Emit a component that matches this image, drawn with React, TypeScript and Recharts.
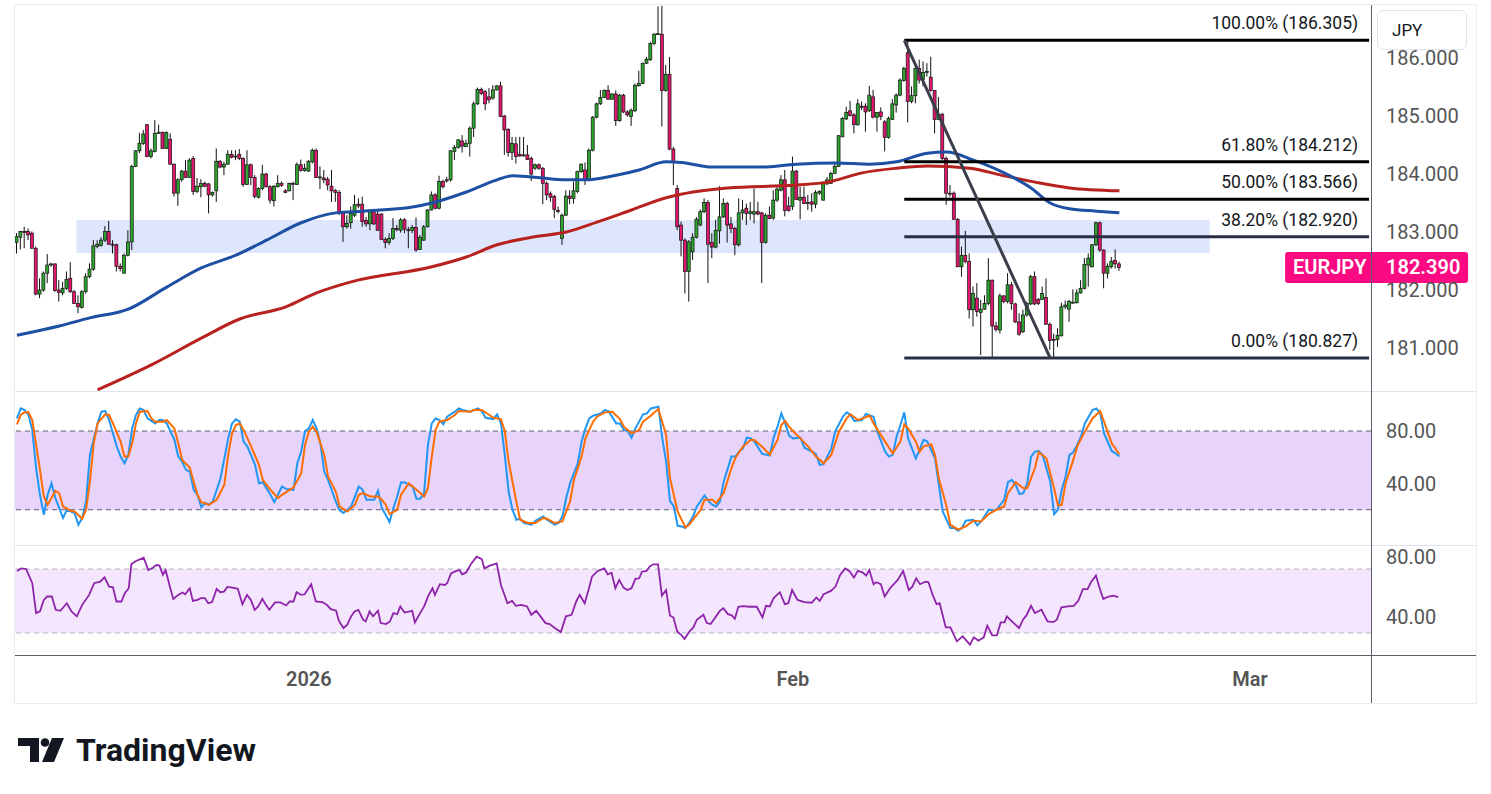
import React from "react";
import {
  ComposedChart,
  Bar,
  Line,
  XAxis,
  YAxis,
  ReferenceArea,
  ReferenceLine,
  ReferenceDot,
} from "recharts";

// 4H candles, [open, high, low, close]
const decCandles = [
  [182.82,182.98,182.63,182.92],[182.91,183.02,182.70,183.01],[183.01,183.09,182.72,183.00],[183.01,183.06,182.86,182.95],
  [182.98,183.01,182.72,182.72],[182.72,182.75,181.91,181.93],[181.93,182.20,181.86,182.00],[182.00,182.32,181.97,182.29],
  [182.29,182.62,182.12,182.43],[182.44,182.47,182.40,182.45],[182.45,182.46,181.97,181.99],[182.00,182.17,181.80,181.96],
  [181.95,182.14,181.91,182.03],[182.03,182.32,182.00,182.18],[182.20,182.48,181.95,181.97],[181.97,182.00,181.76,181.77],
  [181.77,181.91,181.60,181.71],[181.70,182.00,181.68,181.97],[181.97,182.29,181.94,182.23],[182.23,182.46,182.20,182.36],
  [182.36,182.86,182.33,182.76],[182.75,182.86,182.72,182.79],[182.77,182.91,182.75,182.86],[182.86,183.10,182.83,183.01],
  [183.01,183.19,182.78,182.79],[182.79,182.86,182.63,182.78],[182.78,182.80,182.32,182.41],[182.41,182.46,182.32,182.37],
  [182.29,182.63,182.29,182.60],[182.60,183.03,182.58,182.83],[182.83,184.16,182.69,184.13],[184.13,184.41,184.12,184.40],
  [184.40,184.71,184.36,184.53],[184.53,184.76,184.50,184.69],[184.85,184.86,184.29,184.30],[184.30,184.44,184.27,184.40],
  [184.39,184.93,184.37,184.70],[184.70,184.85,184.70,184.72],[184.72,184.73,184.43,184.44],[184.44,184.73,184.43,184.72],
  [184.60,184.70,184.16,184.17],[184.17,184.18,183.61,183.67],[183.67,183.93,183.45,183.90],[183.90,184.07,183.87,184.05],
  [184.05,184.24,183.93,183.94],[183.94,184.27,183.93,184.24],[184.27,184.31,183.64,183.70],[183.70,183.93,183.67,183.79],
  [183.78,183.91,183.60,183.84],[183.84,183.87,183.77,183.79],[183.83,183.84,183.32,183.64],[183.64,183.70,183.61,183.68],
  [183.71,184.44,183.52,184.22],[184.22,184.24,184.10,184.12],[184.12,184.21,183.98,184.17],[184.17,184.41,184.16,184.34],
  [184.34,184.41,184.27,184.29],[184.30,184.41,184.24,184.31],[184.34,184.43,184.24,184.27],[184.27,184.29,183.78,183.82],
  [183.82,184.41,183.81,184.16],[184.16,184.18,183.81,183.94],[183.94,183.98,183.58,183.61],[183.60,183.77,183.58,183.75],
  [183.75,184.16,183.72,184.00],[184.00,184.02,183.77,183.78],[183.78,183.81,183.49,183.55],[183.54,183.81,183.44,183.79],
  [183.78,183.98,183.77,183.84],[183.84,183.87,183.78,183.80],[183.71,183.74,183.67,183.68],[183.71,183.85,183.70,183.84],
  [183.84,183.87,183.55,183.83],[183.82,184.20,183.81,184.16],[184.16,184.25,184.04,184.06],[184.06,184.18,184.04,184.10],
];

const janCandles = [
  [184.05,184.24,184.04,184.22],[184.21,184.44,184.18,184.41],[184.41,184.44,183.93,183.94],[183.94,184.13,183.74,183.95],
  [183.93,184.07,183.84,183.90],[183.91,183.95,183.72,183.81],[183.79,184.07,183.52,183.71],[183.72,183.74,183.52,183.68],
  [183.68,183.72,183.29,183.33],[183.33,183.35,182.83,183.09],[183.09,183.29,183.06,183.15],[183.16,183.44,183.06,183.32],
  [183.29,183.64,183.26,183.47],[183.48,183.58,183.41,183.45],[183.48,183.61,183.09,183.18],[183.20,183.26,183.09,183.14],
  [183.14,183.38,183.03,183.35],[183.35,183.38,183.12,183.14],[183.31,183.38,183.03,183.03],[183.31,183.32,182.86,182.87],
  [182.87,182.91,182.72,182.82],[182.82,182.98,182.78,182.89],[182.89,183.24,182.86,183.06],[183.06,183.12,183.01,183.04],
  [183.03,183.24,182.99,183.21],[183.21,183.24,182.98,183.05],[183.04,183.09,182.72,183.03],[183.03,183.12,182.98,183.08],
  [183.08,183.25,182.66,182.69],[182.70,182.95,182.69,182.91],[182.86,183.12,182.85,183.09],[183.09,183.39,183.08,183.38],
  [183.38,183.70,183.37,183.64],[183.64,183.67,183.39,183.41],[183.41,183.97,183.39,183.87],[183.87,183.90,183.75,183.78],
  [183.90,183.95,183.85,183.89],[183.90,184.41,183.87,184.40],[184.39,184.50,184.24,184.46],[184.46,184.60,184.44,184.59],
  [184.57,184.67,184.37,184.48],[184.47,184.59,184.47,184.53],[184.53,184.82,184.30,184.79],[184.79,185.25,184.64,185.21],
  [185.21,185.49,185.19,185.46],[185.46,185.49,185.36,185.39],[185.42,185.45,185.10,185.21],[185.33,185.48,185.22,185.28],
  [185.31,185.53,185.28,185.45],[185.45,185.53,185.44,185.52],[185.52,185.59,184.98,184.99],[185.00,185.02,184.33,184.76],
  [184.77,184.79,184.30,184.37],[184.37,184.64,184.24,184.53],[184.52,184.64,184.18,184.30],[184.34,184.64,184.30,184.31],
  [184.32,184.64,184.30,184.33],[184.33,184.50,184.24,184.25],[184.27,184.30,183.88,184.00],[184.10,184.18,184.07,184.16],
  [184.16,184.18,184.07,184.10],[184.10,184.12,183.48,183.84],[183.84,183.87,183.55,183.64],[183.66,183.70,183.52,183.60],
  [183.61,183.64,183.24,183.39],[183.37,183.44,183.32,183.36],[182.89,183.32,182.78,183.29],[183.29,183.72,183.28,183.62],
  [183.62,183.72,183.48,183.58],[183.58,183.87,183.49,183.71],[183.70,184.06,183.67,184.04],[184.04,184.18,184.02,184.17],
  [184.07,184.20,183.81,183.91],[183.91,184.44,183.90,184.41],[184.41,185.00,184.39,184.98],[184.98,185.23,184.96,185.21],
  [185.21,185.45,185.19,185.32],[185.32,185.46,185.31,185.44],[185.44,185.53,185.28,185.29],[185.29,185.39,185.28,185.38],
  [185.38,185.44,184.83,184.92],[184.92,185.38,184.90,185.36],[185.36,185.38,185.05,185.07],[185.07,185.10,184.99,185.02],
  [184.99,185.13,184.83,185.10],[185.09,185.56,185.07,185.53],[185.52,185.78,185.51,185.56],[185.56,185.92,185.55,185.91],
  [185.91,186.02,185.90,185.98],[185.97,186.28,185.95,186.25],[186.25,186.43,186.22,186.41],[186.41,186.89,186.40,186.42],
  [186.41,186.90,184.82,185.44],[185.44,185.88,185.42,185.72],[185.72,186.02,184.41,184.43],[184.43,184.47,183.81,184.21],
  [183.75,183.81,183.03,183.09],[183.12,183.18,182.58,182.86],[182.86,182.89,181.94,182.32],[182.32,182.86,181.80,182.83],
  [182.66,182.98,182.52,182.91],[182.91,183.26,182.89,183.22],[183.12,183.39,183.10,183.35],[183.35,183.58,183.32,183.51],
  [183.51,183.55,182.12,182.79],[182.82,182.98,182.55,182.74],[182.74,183.21,182.72,183.03],[183.02,183.79,182.80,183.26],
  [183.26,183.58,183.24,183.49],[183.49,183.52,182.82,183.12],[183.14,183.26,182.98,183.06],[183.06,183.09,182.60,182.78],
  [182.78,183.58,182.75,183.33],[183.33,183.55,183.21,183.38],[183.41,183.49,183.12,183.32],[183.32,183.52,183.21,183.35],
  [183.31,183.75,183.15,183.35],[183.35,183.52,183.29,183.31],[183.33,183.35,182.12,182.82],[182.82,183.32,182.80,183.29],
  [183.29,183.44,183.22,183.23],[183.24,183.72,183.21,183.55],[183.55,183.78,183.52,183.74],[183.72,183.98,183.70,183.90],
  [183.90,184.07,183.27,183.37],[183.45,183.61,183.35,183.37],
];

const febCandles = [
  [183.44,184.30,183.38,184.05],[184.05,184.07,183.55,183.56],[183.55,183.78,183.22,183.60],[183.60,183.78,183.48,183.49],
  [183.51,183.64,183.38,183.50],[183.52,183.67,183.35,183.48],[183.48,183.72,183.41,183.68],[183.67,183.72,183.64,183.70],
  [183.55,183.87,183.54,183.84],[183.83,183.95,183.81,183.90],[183.84,184.04,183.83,184.01],[184.01,184.21,184.00,184.13],
  [184.13,184.67,184.12,184.66],[184.64,184.98,184.64,184.96],[184.95,185.16,184.93,185.06],[185.09,185.26,184.99,185.01],
  [185.02,185.05,184.70,184.85],[184.85,185.29,184.83,185.21],[185.17,185.25,185.10,185.15],[185.17,185.22,184.73,185.07],
  [185.09,185.52,185.07,185.36],[185.33,185.45,184.96,184.98],[184.98,185.07,184.73,185.06],[185.07,185.15,184.93,184.99],
  [184.90,184.93,184.39,184.63],[184.63,184.99,184.61,184.96],[184.94,185.29,184.93,185.21],[185.19,185.39,185.06,185.36],
  [185.36,185.65,185.34,185.62],[185.61,185.85,185.59,185.82],[186.09,186.28,184.89,185.25],[185.25,185.51,185.22,185.35],
  [185.35,185.85,185.22,185.82],[185.82,185.97,185.56,185.62],[185.63,185.94,185.51,185.75],[185.76,185.91,185.68,185.77],
  [185.67,186.02,185.42,185.44],[185.44,185.45,184.70,184.94],[184.94,185.33,184.93,185.03],[185.03,185.05,184.24,184.27],
  [184.27,184.30,183.47,183.67],[183.67,183.81,183.61,183.66],[183.67,183.70,183.21,183.22],[183.22,183.24,182.40,182.40],
  [182.40,182.75,182.23,182.60],[182.60,183.02,182.46,182.49],[182.49,182.63,181.51,181.66],[181.66,182.06,181.37,181.94],
  [181.86,182.12,181.54,181.63],[181.61,181.83,180.88,181.67],[181.67,181.91,181.66,181.77],[181.77,182.55,181.74,182.17],
  [182.17,182.18,180.84,181.38],[181.38,181.45,181.28,181.32],[181.31,181.94,181.25,181.90],[181.90,181.91,181.77,181.80],
  [181.80,182.29,181.77,182.09],[182.09,182.14,181.66,181.77],[181.76,181.78,181.43,181.45],[181.45,181.60,181.21,181.24],
  [181.28,181.66,181.26,181.57],[181.57,181.80,181.54,181.77],[181.76,182.26,181.74,182.23],[182.23,182.32,181.74,181.76],
  [181.84,181.86,181.74,181.77],[181.84,182.06,181.83,181.94],[181.87,182.20,181.40,181.41],[181.41,181.44,180.97,181.13],
  [181.15,181.25,180.82,181.14],[181.15,181.34,181.02,181.22],[181.21,181.78,181.20,181.71],[181.71,181.82,181.67,181.74],
  [181.67,181.83,181.45,181.80],[181.78,182.01,181.77,181.79],[181.78,182.01,181.77,181.95],[181.95,182.17,181.94,182.03],
  [182.03,182.55,182.01,182.44],[182.43,182.63,182.06,182.55],[182.40,182.79,182.39,182.78],[182.78,183.18,182.76,183.16],
  [183.16,183.18,182.66,182.69],[182.69,182.70,182.03,182.29],[182.29,182.46,182.20,182.41],[182.40,182.57,182.37,182.49],
  [182.51,182.70,182.37,182.45],[182.45,182.49,182.33,182.39],
];

// moving averages, read as [candle index, value]
const ma100Pts = [
  [0,181.22],[11,181.38],[19,181.52],[29,181.67],[39,182.05],[48,182.38],[57,182.60],[65,182.86],[74,183.16],[83,183.33],
  [90,183.36],[103,183.43],[108,183.50],[117,183.69],[125,183.90],[129,183.97],[134,183.95],[143,183.90],[148,183.90],
  [156,183.98],[162,184.07],[169,184.21],[173,184.20],[181,184.12],[194,184.12],[203,184.17],[213,184.19],[222,184.17],
  [229,184.21],[237,184.36],[242,184.38],[249,184.24],[257,184.02],[264,183.76],[269,183.50],[274,183.40],[281,183.36],[287,183.33],
];
const ma200Pts = [
  [21,180.28],[35,180.71],[48,181.17],[58,181.50],[70,181.71],[78,181.95],[87,182.14],[108,182.40],[117,182.57],[125,182.78],
  [134,182.91],[143,183.00],[151,183.17],[160,183.38],[169,183.59],[176,183.69],[185,183.76],[203,183.81],[211,183.86],
  [220,184.02],[229,184.10],[237,184.14],[248,184.10],[257,183.97],[265,183.86],[274,183.76],[287,183.71],
];

// stochastic %K / %D, [candle index, value]
const stochK = [
  [0,89.6],[1,97.2],[2,96.0],[3,92.2],[4,80.8],[5,51.6],[6,31.4],[7,16.2],[8,31.4],[9,40.2],[10,28.9],[12,13.7],[13,20.0],
  [15,17.5],[16,8.6],[17,13.7],[18,26.3],[19,61.8],[21,85.8],[22,94.7],[23,95.2],[24,88.4],[26,68.1],[27,60.5],[28,55.4],
  [29,61.8],[30,82.0],[31,92.2],[32,97.2],[33,96.0],[34,89.6],[36,85.8],[37,88.4],[38,88.4],[39,85.8],[41,73.2],[42,60.5],
  [43,56.7],[44,50.4],[45,49.1],[46,35.2],[47,31.4],[48,22.0],[49,25.1],[50,23.8],[51,26.3],[53,44.0],[55,74.4],[56,85.8],
  [57,88.9],[58,87.1],[59,71.9],[60,68.1],[62,54.2],[63,40.2],[64,41.0],[66,31.4],[67,25.8],[69,37.7],[70,35.9],[72,35.2],
  [73,55.4],[74,64.3],[75,80.0],[76,82.0],[77,88.4],[78,82.0],[79,70.6],[80,49.1],[81,42.8],[83,26.3],[84,19.5],[85,17.5],
  [87,22.5],[89,37.7],[90,35.2],[91,27.6],[93,27.6],[94,34.4],[95,21.3],[96,16.2],[97,10.6],[98,21.3],[99,30.1],[100,41.0],
  [101,40.8],[103,37.7],[104,28.3],[105,28.3],[106,32.7],[107,69.4],[108,85.8],[109,89.6],[110,88.4],[111,85.1],[112,90.9],
  [114,94.7],[115,97.2],[116,96.0],[118,94.7],[120,97.2],[121,95.2],[122,90.1],[124,89.1],[125,92.7],[126,85.8],[127,61.8],
  [128,33.9],[129,20.0],[130,12.4],[131,13.2],[132,9.9],[134,8.6],[135,11.6],[137,14.9],[138,12.4],[140,8.6],[141,9.9],
  [142,14.9],[143,28.9],[144,40.2],[146,55.4],[147,71.9],[148,82.0],[149,89.6],[150,91.6],[152,93.4],[153,96.0],[154,95.2],
  [156,85.8],[157,85.8],[158,80.8],[159,80.0],[160,74.9],[161,82.0],[163,92.7],[164,93.4],[165,97.2],[167,98.5],[168,74.4],
  [169,56.7],[170,26.8],[171,22.5],[172,7.8],[173,7.3],[174,6.1],[175,9.9],[176,14.9],[177,22.5],[179,30.9],[180,26.8],
  [181,23.8],[182,22.5],[183,26.3],[184,41.5],[186,60.5],[187,60.5],[188,64.3],[189,66.8],[190,74.9],[191,74.4],[192,71.9],
  [194,62.6],[196,61.3],[197,75.0],[198,83.3],[199,93.4],[200,85.8],[201,76.5],[202,74.4],[204,74.9],[205,67.3],[207,64.3],
  [208,62.3],[209,54.2],[210,54.7],[212,66.8],[213,79.5],[215,90.9],[216,94.2],[217,92.2],[218,87.6],[220,88.4],[221,92.9],
  [223,90.9],[224,79.5],[226,64.3],[227,60.5],[228,61.8],[229,75.7],[230,84.6],[231,94.2],[232,74.4],[233,66.8],[234,59.2],
  [235,65.6],[236,73.2],[237,71.9],[239,59.2],[240,39.0],[241,18.7],[243,6.1],[244,6.1],[245,4.0],[246,6.1],[247,11.6],
  [249,12.4],[250,8.1],[251,11.1],[253,20.0],[254,19.2],[255,20.0],[257,27.6],[258,41.0],[259,42.8],[260,39.0],[261,31.9],
  [262,32.7],[263,40.2],[264,60.5],[265,64.3],[266,64.8],[267,61.8],[269,41.5],[270,16.7],[271,20.0],[272,35.2],[273,45.3],
  [274,61.8],[275,63.8],[276,69.4],[277,75.7],[278,85.8],[279,90.9],[280,96.0],[281,97.2],[282,93.4],[283,78.2],[285,64.8],
  [286,63.0],[287,60.5],
];
const stochD = [
  [0,85.1],[1,92.2],[2,94.2],[3,94.2],[4,88.4],[5,69.4],[6,50.4],[7,30.1],[8,23.8],[9,28.9],[10,34.4],[11,32.7],[12,22.5],
  [14,19.2],[15,18.7],[17,13.2],[18,20.0],[19,41.5],[20,70.6],[21,85.8],[23,92.7],[24,92.2],[25,85.8],[27,71.9],[28,60.5],
  [29,60.5],[30,70.6],[31,85.8],[32,94.7],[34,95.2],[35,89.6],[36,87.1],[38,87.1],[39,88.4],[41,82.0],[42,70.6],[43,58.0],
  [45,52.1],[46,41.5],[47,31.4],[48,25.8],[50,23.8],[52,27.6],[54,39.0],[55,61.8],[56,78.2],[57,84.6],[58,85.8],[59,80.8],
  [61,68.1],[63,54.2],[64,42.8],[66,35.2],[68,28.9],[69,31.4],[71,35.2],[72,37.0],[74,47.8],[75,69.4],[76,79.5],[77,83.3],
  [78,79.5],[80,61.8],[81,45.3],[83,33.9],[84,22.5],[86,18.7],[88,23.8],[89,31.4],[90,32.7],[92,30.1],[94,30.1],[95,27.6],
  [96,23.8],[97,16.7],[99,20.0],[100,31.4],[102,40.2],[103,37.7],[105,32.7],[106,30.1],[107,36.4],[108,60.5],[109,80.8],
  [110,87.1],[112,88.4],[114,92.2],[115,95.2],[118,94.7],[119,96.0],[121,96.0],[123,92.2],[124,90.1],[126,89.1],[127,80.0],
  [128,56.7],[130,26.3],[131,12.4],[133,9.9],[135,9.9],[137,13.7],[138,13.2],[140,9.9],[142,11.1],[144,26.3],[145,42.8],
  [147,60.5],[148,74.4],[150,87.1],[151,90.9],[153,94.2],[155,94.7],[157,89.1],[158,83.3],[160,78.2],[162,80.8],[163,87.1],
  [165,91.6],[167,96.7],[169,77.0],[170,44.0],[172,18.7],[174,6.6],[175,8.6],[176,12.4],[178,20.0],[179,27.6],[181,27.6],
  [182,25.1],[184,32.7],[186,51.6],[187,59.2],[189,68.1],[191,73.2],[192,73.2],[194,68.0],[196,62.0],[198,73.2],[199,84.6],
  [200,87.6],[201,83.3],[203,77.0],[204,74.4],[206,68.1],[208,60.5],[210,55.4],[212,61.8],[214,79.5],[216,89.6],[217,92.7],
  [219,88.4],[222,91.6],[223,85.8],[226,71.9],[228,63.0],[230,71.9],[231,85.1],[232,82.0],[234,71.9],[235,64.3],[236,68.1],
  [238,69.9],[239,61.8],[240,44.0],[242,22.5],[243,8.6],[245,4.8],[247,7.3],[249,11.6],[251,11.1],[253,16.7],[255,20.0],
  [257,22.5],[258,32.7],[260,41.0],[262,36.4],[263,36.4],[265,51.6],[266,63.8],[268,59.2],[270,36.4],[271,23.3],[272,23.8],
  [273,40.2],[275,58.0],[276,68.1],[278,79.5],[280,89.6],[282,95.2],[283,87.1],[285,70.6],[287,62.3],
];

// RSI, [candle position, value]
const rsiPts = [
  [0,68.8],[1.1,70.4],[2.4,70.0],[4,61.1],[5,42.4],[6,43.5],[7,50.7],[7.9,52.8],[9.1,52.8],[10.1,44.5],[11.3,43.9],[13,48.6],
  [14.2,43.5],[15.6,40.4],[17,47.6],[18.8,53.8],[20.1,61.1],[21.7,62.1],[22.8,64.8],[24,59.0],[25,58.6],[25.9,49.7],[27.2,49.7],
  [28.1,54.9],[29.1,58.0],[29.8,73.1],[31,75.0],[33,77.0],[34.2,69.4],[35.4,70.8],[36.3,72.5],[37.1,72.1],[38,66.3],[38.7,69.4],
  [39.7,60.0],[40.7,51.3],[42,53.8],[43.1,55.3],[43.8,54.2],[45,58.0],[45.8,50.1],[47,50.7],[47.9,51.8],[48.9,51.8],[49.8,48.6],
  [50.8,49.3],[52,57.6],[52.9,55.5],[53.9,55.9],[54.8,58.8],[56.1,58.4],[57.5,57.6],[58.7,48.0],[59.9,53.8],[60.9,50.7],
  [61.9,44.5],[62.8,46.6],[63.9,51.3],[64.8,47.6],[65.7,44.5],[67.2,49.1],[68.6,49.1],[70.1,47.2],[71,49.7],[72,49.7],[72.8,55.5],
  [74,53.8],[74.9,54.2],[76.6,60.5],[77.8,49.7],[79.5,49.3],[80.7,47.6],[81.7,44.9],[83.1,43.9],[83.8,37.7],[85,33.1],[86,35.2],
  [87,40.4],[87.9,43.5],[88.9,44.5],[90.1,38.3],[90.8,37.2],[91.8,43.5],[92.7,40.4],[94,43.9],[94.7,36.2],[96.1,35.6],[97.1,37.2],
  [98,42.4],[99,41.8],[99.8,46.6],[100.9,42.8],[102.9,43.9],[103.6,36.6],[104.8,41.8],[106,46.6],[107.2,53.8],[108.2,58.0],
  [108.8,53.8],[110.1,60.5],[111.4,60.0],[112,61.1],[113,67.3],[114.4,68.8],[115.2,69.4],[115.9,66.7],[116.9,67.7],[118.3,73.5],
  [119.7,77.7],[121,76.2],[121.7,70.4],[123.1,72.1],[124.9,73.5],[126,60.0],[127.7,48.6],[128.9,50.1],[129.9,47.0],[131.3,47.6],
  [132.8,46.6],[133.9,41.4],[135.2,43.9],[136.1,41.0],[137.6,36.2],[138.7,35.6],[140,33.1],[141.6,30.6],[142.9,40.4],[144.4,41.4],
  [145.6,49.7],[146.5,53.8],[147.8,48.6],[148.8,56.9],[149.7,65.2],[151.2,68.8],[152.9,70.4],[153.8,66.7],[154.8,67.7],[155.8,58.0],
  [156.8,63.2],[157.9,58.4],[158.9,56.9],[160,58.0],[161,63.8],[162,64.2],[162.7,68.3],[163.9,68.8],[164.7,71.5],[165.6,72.9],
  [166.9,72.9],[167.9,53.4],[169,56.9],[170,41.0],[170.9,39.7],[171.9,31.0],[172.9,28.9],[173.8,26.3],[175.1,31.0],[176.1,33.5],
  [177,38.3],[178.7,41.4],[179.6,36.2],[180.6,35.6],[182,40.4],[183,43.9],[183.9,45.5],[185.1,41.8],[186.1,41.0],[186.9,38.9],
  [187.8,46.4],[189,46.8],[190.7,46.4],[192.6,46.4],[194.1,39.7],[195,47.0],[196,46.6],[197,51.8],[198.6,55.5],[199.9,48.0],
  [200.8,48.6],[201.8,56.9],[203.2,50.7],[205,49.3],[206.9,48.9],[208.1,52.2],[209,50.1],[210,54.2],[211.9,56.3],[213.1,59.0],
  [214.3,66.3],[215.6,70.4],[216.7,68.8],[217.9,64.6],[218.9,68.8],[220.1,67.9],[221.1,65.9],[221.9,69.4],[223,60.5],[223.7,61.7],
  [224.9,60.5],[225.9,52.8],[227.3,58.0],[229.3,63.2],[230.7,68.8],[232.2,56.9],[233.1,59.0],[234.1,64.2],[235.1,60.5],[236.5,62.1],
  [237.3,61.7],[238.4,53.8],[239.4,48.0],[240.2,48.6],[241.8,33.5],[243,33.5],[244.7,24.8],[246.2,27.9],[248.1,22.7],[249.1,27.3],
  [250.3,25.2],[251.7,27.3],[252.6,34.6],[253.9,28.5],[255.1,28.5],[256.1,36.6],[257.1,36.6],[257.7,40.4],[259.2,36.8],[260.9,33.1],
  [261.9,38.3],[262.8,41.0],[264,47.0],[265,42.4],[266.7,44.5],[268.3,37.2],[269.8,36.8],[270.7,38.3],[271.9,46.0],[273.6,46.6],
  [275.1,47.0],[276.3,50.1],[277.5,57.4],[278.7,57.4],[279.6,61.7],[280.9,65.9],[281.8,58.4],[282.8,51.3],[284.2,52.8],[285.4,53.4],
  [286.7,52.4],
];

// fibonacci retracement drawn from the swing high to the swing low
const fibPct = ["100.00%", "61.80%", "50.00%", "38.20%", "0.00%"];
const fibPrice = [186.305, 184.212, 183.566, 182.92, 180.827];
const fibFrom = 231;
const trendFrom = [231, 186.305];
const trendTo = [269, 180.827];
const zoneIdx = [16, 310];
const zonePrice = [182.638, 183.207];

const tickIdx = [76, 202, 321];
const tickText = ["2026", "Feb", "Mar"];
const priceTicks = [181, 182, 183, 184, 185, 186];

const SLOTS = 353;
const LAST = SLOTS - 1;
const GREEN = "#2ea32e";
const RED = "#e5166e";
const FONT = "Roboto, 'Noto Sans', sans-serif";

const candles = [...decCandles, ...janCandles, ...febCandles];
const ma100Map = new Map(ma100Pts.map(([i, v]) => [i, v]));
const ma200Map = new Map(ma200Pts.map(([i, v]) => [i, v]));
const lastClose = candles[candles.length - 1][3];

const mainRows = Array.from({ length: SLOTS }, (_, i) => {
  const k = candles[i];
  return {
    i,
    o: k ? k[0] : null,
    h: k ? k[1] : null,
    l: k ? k[2] : null,
    c: k ? k[3] : null,
    range: k ? [k[2], k[1]] : null,
    ma100: ma100Map.has(i) ? ma100Map.get(i) : null,
    ma200: ma200Map.has(i) ? ma200Map.get(i) : null,
  };
});

const toRows = (pts: number[][]) => pts.map(([t, v]) => ({ t, v }));
const kRows = toRows(stochK);
const dRows = toRows(stochD);
const rsiRows = toRows(rsiPts);

function Candle(props: any) {
  const { x, y, width, height, payload } = props;
  if (!payload || payload.o == null) return null;
  const { o, h, l, c } = payload;
  const span = h - l || 1;
  const py = (v: number) => y + ((h - v) / span) * height;
  const top = py(Math.max(o, c));
  const bot = py(Math.min(o, c));
  const cx = x + width / 2;
  return (
    <g>
      <line x1={cx} x2={cx} y1={y} y2={y + height} stroke="#111" strokeWidth={1} />
      <rect
        x={x}
        y={top}
        width={width}
        height={Math.max(1, bot - top)}
        fill={c >= o ? GREEN : RED}
        stroke="#111"
        strokeWidth={0.7}
      />
    </g>
  );
}

const axisTick = { fill: "#555", fontSize: 20, fontFamily: FONT };

export default function App() {
  return (
    <div style={{ position: "absolute", left: 0, top: 0, width: 1491, height: 794, background: "#fff", fontFamily: FONT }}>
      <div style={{ position: "absolute", left: 14, top: 4, width: 1461, height: 698, border: "1px solid #ebebeb" }} />

      {/* price pane */}
      <div style={{ position: "absolute", left: 15, top: 5 }}>
        <ComposedChart width={1461} height={386} data={mainRows} margin={{ top: 0, right: 0, bottom: 0, left: 0 }}>
          <XAxis dataKey="i" type="category" hide />
          <YAxis
            orientation="right"
            type="number"
            domain={[180.259, 186.914]}
            allowDataOverflow
            ticks={priceTicks}
            tickFormatter={(v: number) => v.toFixed(3)}
            width={105}
            axisLine={false}
            tickLine={false}
            tickSize={0}
            tickMargin={15}
            tick={axisTick}
          />
          <ReferenceArea x1={zoneIdx[0]} x2={zoneIdx[1]} y1={zonePrice[0]} y2={zonePrice[1]} fill="#dde6fc" fillOpacity={1} stroke="none" />
          <Line dataKey="ma200" type="monotone" connectNulls dot={false} stroke="#b8221e" strokeWidth={3} isAnimationActive={false} />
          <Line dataKey="ma100" type="monotone" connectNulls dot={false} stroke="#1d4fa3" strokeWidth={3} isAnimationActive={false} />
          <Bar dataKey="range" barSize={3} shape={<Candle />} isAnimationActive={false} />
          {fibPrice.map((p, k) => (
            <ReferenceLine
              key={fibPct[k]}
              segment={[{ x: fibFrom, y: p }, { x: LAST, y: p }]}
              stroke={k >= 3 ? "#2a2e45" : "#000"}
              strokeWidth={3}
              style={{ strokeWidth: 3 }}
            />
          ))}
          <ReferenceLine
            segment={[{ x: trendFrom[0], y: trendFrom[1] }, { x: trendTo[0], y: trendTo[1] }]}
            stroke="#3a3e4a"
            strokeWidth={3}
            style={{ strokeWidth: 3 }}
          />
          {fibPrice.map((p, k) => (
            <ReferenceDot
              key={"lbl" + fibPct[k]}
              x={LAST}
              y={p}
              ifOverflow="visible"
              shape={(s: any) => (
                <text x={s.cx - 11} y={s.cy - 11} textAnchor="end" fontSize={17.5} fontFamily={FONT} fill="#131722">
                  {`${fibPct[k]} (${p.toFixed(3)})`}
                </text>
              )}
            />
          ))}
          <ReferenceDot
            x={LAST}
            y={lastClose}
            ifOverflow="visible"
            shape={(s: any) => (
              <g>
                <rect x={s.cx - 84} y={s.cy - 15.5} width={183} height={31} rx={3} fill="#fb0a82" />
                <text x={s.cx - 76} y={s.cy + 7} fontSize={20} fontWeight={600} fontFamily={FONT} fill="#fff">EURJPY</text>
                <text x={s.cx + 17} y={s.cy + 7} fontSize={20} fontWeight={600} fontFamily={FONT} fill="#fff">
                  {lastClose.toFixed(3)}
                </text>
              </g>
            )}
          />
        </ComposedChart>
      </div>

      {/* stochastic pane */}
      <div style={{ position: "absolute", left: 15, top: 391 }}>
        <ComposedChart width={1461} height={154} margin={{ top: 0, right: 0, bottom: 0, left: 0 }}>
          <XAxis dataKey="t" type="number" domain={[-0.5, SLOTS - 0.5]} allowDataOverflow hide />
          <YAxis
            orientation="right"
            type="number"
            domain={[-6.86, 110.48]}
            allowDataOverflow
            ticks={[0, 40, 80]}
            tickFormatter={(v: number) => v.toFixed(2)}
            width={105}
            axisLine={false}
            tickLine={false}
            tickSize={0}
            tickMargin={15}
            tick={axisTick}
          />
          <ReferenceArea y1={20} y2={80} fill="#e8d3fb" fillOpacity={1} stroke="none" />
          <ReferenceLine y={80} stroke="#5d606b" strokeDasharray="5 4" />
          <ReferenceLine y={20} stroke="#5d606b" strokeDasharray="5 4" />
          <Line data={kRows} dataKey="v" type="linear" dot={false} stroke="#2196f3" strokeWidth={2} isAnimationActive={false} />
          <Line data={dRows} dataKey="v" type="linear" dot={false} stroke="#ff6d00" strokeWidth={2} isAnimationActive={false} />
        </ComposedChart>
      </div>

      {/* RSI pane + time axis */}
      <div style={{ position: "absolute", left: 15, top: 545 }}>
        <ComposedChart width={1461} height={158} margin={{ top: 0, right: 0, bottom: 0, left: 0 }}>
          <XAxis
            dataKey="t"
            type="number"
            domain={[-0.5, SLOTS - 0.5]}
            allowDataOverflow
            ticks={tickIdx}
            interval={0}
            tickFormatter={(v: number) => tickText[tickIdx.indexOf(v)]}
            height={48}
            axisLine={false}
            tickLine={false}
            tickSize={0}
            tickMargin={17}
            tick={{ ...axisTick, fontWeight: 600 }}
          />
          <YAxis
            orientation="right"
            type="number"
            domain={[16.25, 85]}
            allowDataOverflow
            ticks={[40, 80]}
            tickFormatter={(v: number) => v.toFixed(2)}
            width={105}
            axisLine={false}
            tickLine={false}
            tickSize={0}
            tickMargin={15}
            tick={axisTick}
          />
          <ReferenceArea y1={30} y2={70} fill="#f4e7fd" fillOpacity={1} stroke="none" />
          <ReferenceLine y={70} stroke="#b2b5be" strokeDasharray="5 4" />
          <ReferenceLine y={30} stroke="#b2b5be" strokeDasharray="5 4" />
          <Line data={rsiRows} dataKey="v" type="linear" dot={false} stroke="#8e24aa" strokeWidth={1.8} isAnimationActive={false} />
        </ComposedChart>
      </div>

      {/* pane separators and axis rules */}
      <div style={{ position: "absolute", left: 15, top: 391, width: 1461, height: 1, background: "#e0e3eb" }} />
      <div style={{ position: "absolute", left: 15, top: 545, width: 1461, height: 1, background: "#e0e3eb" }} />
      <div style={{ position: "absolute", left: 15, top: 655, width: 1461, height: 1, background: "#5d606b" }} />
      <div style={{ position: "absolute", left: 1371, top: 5, width: 1, height: 698, background: "#5d606b" }} />

      {/* currency box */}
      <div
        style={{
          position: "absolute",
          left: 1377,
          top: 10,
          width: 90,
          height: 40,
          boxSizing: "border-box",
          border: "1px solid #e0e3eb",
          borderRadius: 6,
          background: "#fff",
          color: "#131722",
          fontSize: 17,
          lineHeight: "38px",
          paddingLeft: 14,
        }}
      >
        JPY
      </div>

      {/* branding */}
      <div style={{ position: "absolute", left: 18, top: 733, display: "flex", alignItems: "center" }}>
        <svg width={46} height={24} viewBox="0 0 46 24">
          <path d="M0 0 H21 V24 H12 V8 H0 Z" fill="#131722" />
          <circle cx={27} cy={4.5} r={4.3} fill="#131722" />
          <path d="M34 0 H46 L36 24 H24 Z" fill="#131722" />
        </svg>
        <span style={{ marginLeft: 12, fontSize: 32, fontWeight: 700, color: "#131722", letterSpacing: 0, lineHeight: "34px" }}>
          TradingView
        </span>
      </div>
    </div>
  );
}
